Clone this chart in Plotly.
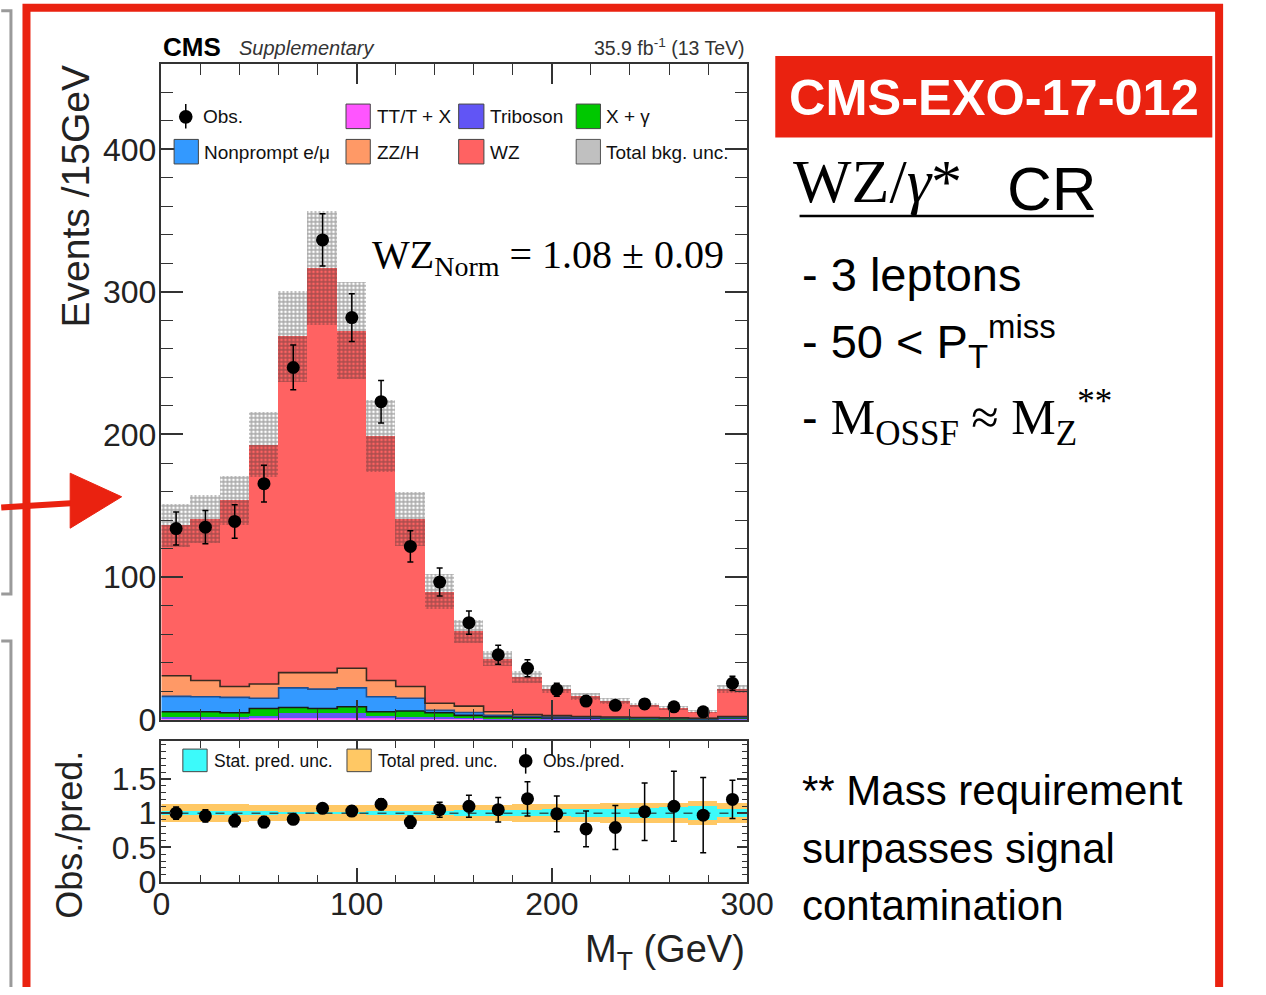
import plotly.graph_objects as go
import numpy as np

# page offsets measured from previous renders
X_OFF, Y_OFF = 8, 0
FW, FH = 1250, 987

# ---------------- data ----------------
bin_edges = [0, 15, 30, 45, 60, 75, 90, 105, 120, 135, 150, 165, 180, 195, 210, 225, 240, 255, 270, 285, 300]
bin_centers = [7.5, 22.5, 37.5, 52.5, 67.5, 82.5, 97.5, 112.5, 127.5, 142.5, 157.5, 172.5, 187.5, 202.5,
               217.5, 232.5, 247.5, 262.5, 277.5, 292.5]

obs = [134, 135, 139, 165.5, 247, 336.5, 282, 223, 121.5, 96.5, 68, 45.5, 36, 21, 13, 10, 11, 9, 5.5, 25.5]
obs_err = [11.6, 11.6, 11.8, 12.9, 15.7, 18.3, 16.8, 14.9, 11.0, 9.8, 8.2, 6.7, 6.0, 4.6, 3.6, 3.2, 3.3, 3.0, 2.3, 5.0]

ttx = [1, 1, 1, 1, 1, 1, 1, 1, 1, 0.8, 0.6, 0.5, 0.5, 0.4, 0.3, 0.3, 0.3, 0.2, 0.2, 0.5]
triboson = [1, 1, 1, 1.5, 4, 4, 4, 1.5, 1, 1.2, 0.9, 0.7, 0.5, 0.4, 0.3, 0.2, 0.2, 0.2, 0.2, 0.5]
xgamma = [3.5, 3.5, 2.8, 5.3, 3.5, 2.8, 4, 3, 4, 2.8, 1.5, 0.8, 0.6, 0.4, 0.4, 0.3, 0.2, 0.2, 0.1, 0.3]
nonprompt = [10.8, 10.5, 10.8, 7.2, 13.8, 13.6, 13.3, 10.5, 9, 1.7, 2, 1, 0.6, 0.6, 0.4, 0.3, 0.3, 0.2, 0.2, 0.3]
zzh = [14.5, 11.4, 7.6, 10, 10.7, 11.6, 13.7, 11.4, 8.2, 5, 4.5, 2.5, 1.3, 1, 0.8, 0.7, 0.5, 0.4, 0.3, 0.6]
wz = [105.7, 113.6, 130.8, 168, 236, 284, 237, 171.6, 117.8, 78.5, 52.5, 37.5, 26.5, 18.7, 14.3, 11.2, 9.0, 7.0, 4.7, 19.3]
bkg_unc = [15, 17, 17, 23, 32, 40, 34, 25.5, 19, 12, 8, 5.5, 4, 3, 2.3, 2, 1.6, 1.3, 1.1, 3]

ratio = [1.0, 0.96, 0.89, 0.87, 0.91, 1.07, 1.03, 1.13, 0.87, 1.05, 1.10, 1.05, 1.21, 0.99, 0.77, 0.79, 1.02, 1.10, 0.97, 1.20]
ratio_err = [0.09, 0.09, 0.09, 0.08, 0.07, 0.06, 0.07, 0.08, 0.09, 0.11, 0.16, 0.18, 0.25, 0.26, 0.26, 0.32, 0.42, 0.51, 0.55, 0.28]
stat_unc = [0.03, 0.03, 0.03, 0.025, 0.02, 0.02, 0.02, 0.025, 0.03, 0.035, 0.04, 0.04, 0.045, 0.05, 0.055, 0.06, 0.07, 0.08, 0.1, 0.06]
tot_unc = [0.13, 0.13, 0.13, 0.12, 0.12, 0.12, 0.12, 0.12, 0.12, 0.12, 0.12, 0.12, 0.13, 0.13, 0.13, 0.14, 0.14, 0.15, 0.17, 0.14]

y_ticks = [0, 100, 200, 300, 400]
r_ticks = [0, 0.5, 1, 1.5]
r_tick_labels = ["0", "0.5", "1", "1.5"]
x_ticks = [0, 100, 200, 300]

# ---------------- styles ----------------
SANS = "Liberation Sans, Arial, sans-serif"
SERIF = "Liberation Serif, Times New Roman, serif"
RED = "rgb(234,34,16)"

components = [
    ("TT/T + X", ttx, "#ff55ff"),
    ("Triboson", triboson, "#6155f5"),
    ("X + γ", xgamma, "#00c800"),
    ("Nonprompt e/μ", nonprompt, "#3399ff"),
    ("ZZ/H", zzh, "#ff9966"),
    ("WZ", wz, "#ff6262"),
]


def px(x):
    return (x - X_OFF) / FW


def py(y):
    return 1 - (y - Y_OFF) / FH


fig = go.Figure()

base = np.zeros(len(bin_centers))
tops = []
for name, vals, col in components:
    v = np.array(vals, dtype=float)
    fig.add_trace(go.Bar(x=bin_centers, y=v, base=base.copy(), width=15, name=name,
                         marker=dict(color=col, line=dict(width=0)), xaxis="x", yaxis="y",
                         showlegend=False))
    base = base + v
    tops.append(base.copy())
total = base

for idx, lc in [(2, "#1a1a1a"), (3, "#1f4f8f"), (4, "#3a2a20")]:
    t = list(tops[idx])
    fig.add_trace(go.Scatter(x=bin_edges, y=t + [t[-1]], mode="lines", line=dict(shape="hv", color=lc, width=1.6),
                             xaxis="x", yaxis="y", showlegend=False, hoverinfo="skip"))

unc = np.array(bkg_unc)
fig.add_trace(go.Bar(x=bin_centers, y=2 * unc, base=total - unc, width=15,
                     marker=dict(color="rgba(0,0,0,0)", line=dict(width=0),
                                 pattern=dict(shape="+", fgcolor="rgba(45,45,45,0.85)",
                                              bgcolor="rgba(255,255,255,0)", size=4, solidity=0.6)),
                     xaxis="x", yaxis="y", showlegend=False))

fig.add_trace(go.Scatter(x=bin_centers, y=obs, mode="markers",
                         marker=dict(color="black", size=13, symbol="circle"),
                         error_y=dict(type="data", array=obs_err, color="black", thickness=1.5, width=3),
                         xaxis="x", yaxis="y", showlegend=False))

tu = np.array(tot_unc)
su = np.array(stat_unc)
fig.add_trace(go.Bar(x=bin_centers, y=2 * tu, base=1 - tu, width=15,
                     marker=dict(color="rgb(255,200,100)", line=dict(width=0)),
                     xaxis="x2", yaxis="y2", showlegend=False))
fig.add_trace(go.Bar(x=bin_centers, y=2 * su, base=1 - su, width=15,
                     marker=dict(color="rgb(60,250,250)", line=dict(width=0)),
                     xaxis="x2", yaxis="y2", showlegend=False))
fig.add_trace(go.Scatter(x=[0, 300], y=[1, 1], mode="lines", line=dict(color="#2a5a5a", width=1.5, dash="dash"),
                         xaxis="x2", yaxis="y2", showlegend=False, hoverinfo="skip"))
fig.add_trace(go.Scatter(x=bin_centers, y=ratio, mode="markers",
                         marker=dict(color="black", size=13),
                         error_y=dict(type="data", array=ratio_err, color="black", thickness=1.5, width=3),
                         xaxis="x2", yaxis="y2", showlegend=False))

axis_common = dict(showline=True, linecolor="#333", linewidth=1.5, mirror="allticks", ticks="inside",
                   tickcolor="#333", showgrid=False, zeroline=False,
                   tickfont=dict(family=SANS, size=32, color="#222"))

fig.update_layout(
    width=FW, height=FH, margin=dict(l=0, r=0, t=0, b=0),
    paper_bgcolor="white", plot_bgcolor="white",
    barmode="overlay", bargap=0,
    xaxis=dict(domain=[px(165), px(768)], range=[0, 300], anchor="y", showticklabels=False,
               tickvals=x_ticks, ticklen=20, tickwidth=1.5,
               minor=dict(dtick=20, ticklen=11, ticks="inside", tickcolor="#333", tickwidth=1.2),
               **axis_common),
    yaxis=dict(domain=[py(733), py(65)], range=[0, 460], anchor="x", tickvals=y_ticks, ticklen=22,
               tickwidth=1.5, ticklabelstandoff=-3,
               minor=dict(dtick=20, ticklen=12, ticks="inside", tickcolor="#333", tickwidth=1.2),
               **axis_common),
    xaxis2=dict(domain=[px(165), px(768)], range=[0, 300], anchor="y2", tickvals=x_ticks, ticklen=14,
                tickwidth=1.5, ticklabelstandoff=-7,
                minor=dict(dtick=20, ticklen=7, ticks="inside", tickcolor="#333", tickwidth=1.2),
                **axis_common),
    yaxis2=dict(domain=[py(898), py(755)], range=[0, 2.05], anchor="x2", tickvals=r_ticks,
                ticktext=r_tick_labels, ticklen=10, tickwidth=1.5, ticklabelstandoff=-3,
                minor=dict(dtick=0.1, ticklen=5, ticks="inside", tickcolor="#333", tickwidth=1),
                **axis_common),
)

shapes = []
annotations = []


def text(x, y, s, size, family=SANS, color="#111", xanchor="left", yanchor="middle", angle=0):
    annotations.append(dict(x=px(x), y=py(y), xref="paper", yref="paper", text=s, showarrow=False,
                            xanchor=xanchor, yanchor=yanchor, textangle=angle,
                            font=dict(family=family, size=size, color=color)))


def rect(x0, y0, x1, y1, fill, line="#444", lw=1):
    shapes.append(dict(type="rect", xref="paper", yref="paper", x0=px(x0), x1=px(x1), y0=py(y1), y1=py(y0),
                       fillcolor=fill, line=dict(color=line, width=lw)))


# ---------------- main legend ----------------
leg_font = 19
shapes.append(dict(type="line", xref="paper", yref="paper", x0=px(190), x1=px(190), y0=py(106), y1=py(131),
                   line=dict(color="black", width=1.5)))
shapes.append(dict(type="circle", xref="paper", yref="paper", x0=px(183), x1=px(197), y0=py(126), y1=py(112),
                   fillcolor="black", line=dict(color="black", width=0)))
text(206, 119, "Obs.", leg_font, color="#111")
rect(355, 106, 380, 131, "#ff55ff")
text(385, 119, "TT/T + X", leg_font, color="#111")
rect(471, 106, 497, 131, "#6155f5")
text(501, 119, "Triboson", leg_font, color="#111")
rect(592, 106, 617, 131, "#00c800")
text(621, 119, "X + γ", leg_font, color="#111")
rect(178, 142, 203, 167, "#3399ff")
text(207, 155, "Nonprompt e/μ", leg_font, color="#111")
rect(355, 142, 380, 167, "#ff9966")
text(385, 155, "ZZ/H", leg_font, color="#111")
rect(471, 142, 497, 167, "#ff6262")
text(501, 155, "WZ", leg_font, color="#111")
rect(592, 142, 617, 167, "#c0c0c0", line="#555")
text(621, 155, "Total bkg. unc.", leg_font, color="#111")

# ratio legend
rect(187, 763, 212, 786, "rgb(60,250,250)")
text(217, 775, "Stat. pred. unc.", 17.5, color="#111")
rect(356, 763, 381, 786, "rgb(255,200,100)")
text(386, 775, "Total pred. unc.", 17.5, color="#111")
shapes.append(dict(type="line", xref="paper", yref="paper", x0=px(540), x1=px(540), y0=py(762), y1=py(788),
                   line=dict(color="black", width=1.5)))
shapes.append(dict(type="circle", xref="paper", yref="paper", x0=px(533), x1=px(547), y0=py(782), y1=py(768),
                   fillcolor="black", line=dict(color="black", width=0)))
text(556, 775, "Obs./pred.", 17.5, color="#111")

# header texts
text(165, 48, "<b>CMS</b>", 26, color="#000")
text(243, 49, "<i>Supplementary</i>", 20, color="#333")
text(768, 48, "35.9 fb<sup>-1</sup> (13 TeV)", 19.5, xanchor="right", color="#333")
text(380, 262, "WZ<sub>Norm</sub> = 1.08 ± 0.09", 40, family=SERIF, color="black")

# axis titles
text(76, 200, "Events /15GeV", 39, angle=-90, color="#222", xanchor="center")
text(70, 850, "Obs./pred.", 36, angle=-90, color="#222", xanchor="center")
text(768, 970, "M<sub>T</sub> (GeV)", 38, xanchor="right", color="#222")

# ---------------- slide decorations ----------------
shapes.append(dict(type="path", xref="paper", yref="paper",
                   path=f"M {px(0)} {py(11)} L {px(10)} {py(11)} L {px(10)} {py(605)} L {px(0)} {py(605)}",
                   line=dict(color="#9a9a9a", width=3)))
shapes.append(dict(type="path", xref="paper", yref="paper",
                   path=f"M {px(0)} {py(653)} L {px(10)} {py(653)} L {px(10)} {py(1010)}",
                   line=dict(color="#9a9a9a", width=3)))
shapes.append(dict(type="rect", xref="paper", yref="paper", x0=px(26), x1=px(1254), y0=py(1010), y1=py(8),
                   line=dict(color=RED, width=8), fillcolor="rgba(0,0,0,0)"))
shapes.append(dict(type="line", xref="paper", yref="paper", x0=px(0), y0=py(517), x1=px(80), y1=py(512),
                   line=dict(color=RED, width=6)))
shapes.append(dict(type="path", xref="paper", yref="paper",
                   path=f"M {px(71)} {py(482)} L {px(124)} {py(506)} L {px(71)} {py(538)} Z",
                   fillcolor=RED, line=dict(color=RED, width=1)))

rect(797, 57, 1247, 140, RED, line=RED, lw=0)
text(1022, 99, "<b>CMS-EXO-17-012</b>", 50.5, xanchor="center", color="white")

text(813, 184, "WZ/<i>γ</i>*", 62, family=SERIF, color="black")
text(1034, 192, "CR", 62, color="black")
shapes.append(dict(type="line", xref="paper", yref="paper", x0=px(822), x1=px(1125), y0=py(220), y1=py(220),
                   line=dict(color="black", width=2.5)))

text(822, 280, "- 3 leptons", 47, color="black")
text(822, 348, "- 50 &lt; P<sub>T</sub><sup>miss</sup>", 47, color="black")
text(822, 425, "- <span style=\"font-family:Liberation Serif;font-size:50px\">M<sub>OSSF</sub> ≈ M<sub>Z</sub><sup>**</sup></span>",
     47, color="black")

text(822, 805, "** Mass requirement", 42, color="black")
text(822, 864, "surpasses signal", 42, color="black")
text(822, 922, "contamination", 42, color="black")

fig.update_layout(shapes=shapes, annotations=annotations)

fig.write_html("out.html")
